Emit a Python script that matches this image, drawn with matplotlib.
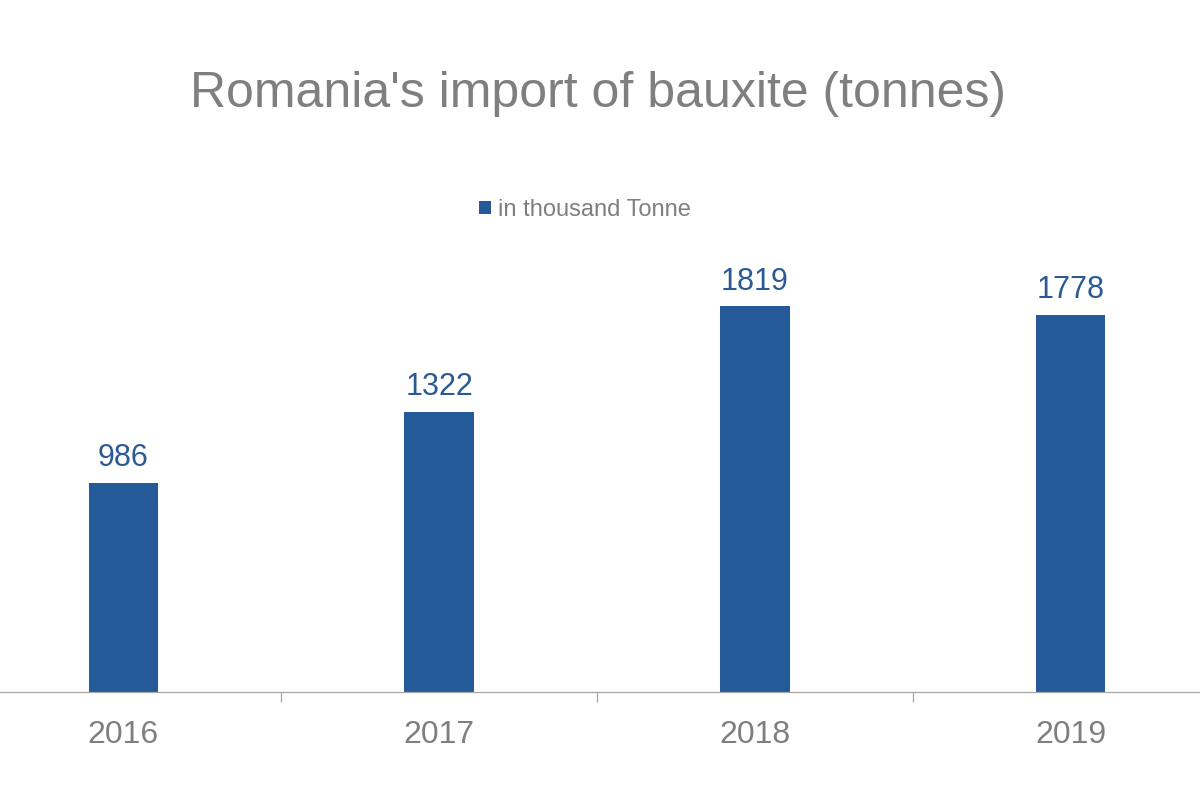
import matplotlib
matplotlib.use("Agg")
import matplotlib.pyplot as plt
from matplotlib.patches import Patch
import numpy as np

# data
years = ["2016", "2017", "2018", "2019"]
imports_kt = [986, 1322, 1819, 1778]
series_name = "in thousand Tonne"
title = "Romania's import of bauxite (tonnes)"

bar_blue = "#255a99"
label_blue = "#2b5a93"
text_grey = "#7f7f7f"
axis_grey = "#a6a6a6"

plt.rcParams["font.family"] = ["Liberation Sans", "DejaVu Sans"]

fig = plt.figure(figsize=(12, 8), dpi=100)
fig.patch.set_facecolor("white")

# axes run a bit past the figure edges, like the cropped original
ax = fig.add_axes([-34.5 / 1200, 108 / 800, 1263 / 1200, 424 / 800])
ax.set_facecolor("none")

x = np.arange(len(years))
bars = ax.bar(x, imports_kt, width=0.22, color=bar_blue, zorder=2)

ax.set_xlim(-0.5, len(years) - 0.5)
ax.set_ylim(0, 2000)

# data labels above the bars
ax.bar_label(bars, labels=[str(v) for v in imports_kt], padding=7,
             fontsize=22, color=label_blue)

# spines / ticks
for side in ["top", "left", "right"]:
    ax.spines[side].set_visible(False)
ax.spines["bottom"].set_color(axis_grey)
ax.spines["bottom"].set_linewidth(0.9)
ax.set_yticks([])

ax.set_xticks(x)
ax.set_xticklabels(years, fontsize=23, color=text_grey)
ax.tick_params(axis="x", which="major", length=0, pad=20)
ax.set_xticks(np.arange(-0.5, len(years)), minor=True)
ax.tick_params(axis="x", which="minor", length=7.5, width=0.9,
               color=axis_grey, direction="out")

# title
fig.text(598.5 / 1200, 1 - 107 / 800, title, ha="center", va="baseline",
         fontsize=36, color=text_grey)

# legend
handle = Patch(facecolor=bar_blue, edgecolor="none", label=series_name)
leg = fig.legend(handles=[handle], loc="center",
                 bbox_to_anchor=(585 / 1200, 1 - 210 / 800),
                 frameon=False, fontsize=17, handlelength=0.5,
                 handleheight=0.5, handletextpad=0.3)
for t in leg.get_texts():
    t.set_color(text_grey)

fig.savefig("out.png", dpi=100, facecolor="white")
